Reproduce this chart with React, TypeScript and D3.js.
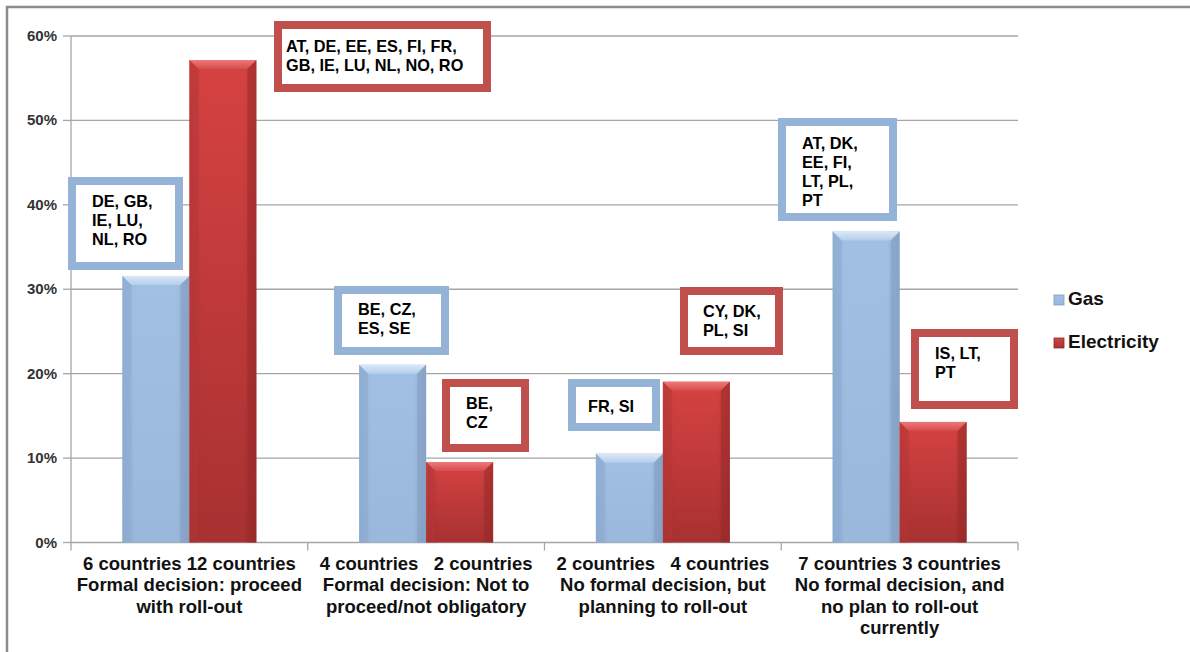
import React from "react";
import * as d3 from "d3";

const categories = ["c1", "c2", "c3", "c4"];
const categoryLabels = [
  ["6 countries 12 countries", "Formal decision: proceed", "with roll-out"],
  ["4 countries   2 countries", "Formal decision: Not to", "proceed/not obligatory"],
  ["2 countries   4 countries", "No formal decision, but", "planning to roll-out"],
  ["7 countries 3 countries", "No formal decision, and", "no plan to roll-out", "currently"],
];
const seriesNames = ["Gas", "Electricity"];
const gasValues = [6 / 19, 4 / 19, 2 / 19, 7 / 19];
const elecValues = [12 / 21, 2 / 21, 4 / 21, 3 / 21];
const yTicks = [0, 0.1, 0.2, 0.3, 0.4, 0.5, 0.6];

const gasCountries = [
  ["DE, GB,", "IE, LU,", "NL, RO"],
  ["BE, CZ,", "ES, SE"],
  ["FR, SI"],
  ["AT, DK,", "EE, FI,", "LT, PL,", "PT"],
];
const elecCountries = [
  ["AT, DE, EE, ES, FI, FR,", "GB, IE, LU, NL, NO, RO"],
  ["BE,", "CZ"],
  ["CY, DK,", "PL, SI"],
  ["IS, LT,", "PT"],
];

// layout of the annotation boxes (outer bounds: x0, y0, x1, y1, text x, first baseline)
const gasBoxLayout = [
  [68, 177, 183, 270, 92, 207],
  [334, 286, 449, 355, 358, 315],
  [568, 379, 660, 431, 588, 412],
  [778, 118, 897, 221, 802, 149],
];
const elecBoxLayout = [
  [274, 21, 491, 92, 286, 52],
  [442, 379, 529, 452, 466, 409],
  [680, 287, 783, 355, 703, 317],
  [911, 329, 1018, 409, 935, 359],
];

const FONT = "'Liberation Sans', Arial, sans-serif";
const BLUE_BORDER = "#95b3d7";
const RED_BORDER = "#c0504d";

export default function App() {
  const left = 71;
  const right = 1018;
  const y = d3.scaleLinear().domain([0, 0.6]).range([542.5, 36]);
  const x0 = d3.scaleBand<string>().domain(categories).range([left, right]);
  const x1 = d3
    .scaleBand<string>()
    .domain(seriesNames)
    .range([0, x0.bandwidth()])
    .paddingInner(0)
    .paddingOuter(0.767);
  const bw = x1.bandwidth();

  const bar = (cx: number, v: number, kind: string, key: string) => {
    const top = y(v);
    const bottom = y(0);
    const h = bottom - top;
    const bev = Math.min(9, h / 2);
    const isGas = kind === "Gas";
    return (
      <g key={key}>
        <rect x={cx} y={top} width={bw} height={h} fill={isGas ? "url(#gasFill)" : "url(#elecFill)"} />
        <rect x={cx} y={top} width={bw} height={h} fill="url(#sideShade)" />
        <polygon
          points={`${cx},${top} ${cx + bw},${top} ${cx + bw - bev},${top + bev} ${cx + bev},${top + bev}`}
          fill={isGas ? "url(#gasTop)" : "url(#elecTop)"}
        />
        <polygon
          points={`${cx},${top} ${cx + bev},${top + bev} ${cx + bev},${bottom} ${cx},${bottom}`}
          fill={isGas ? "#8aa9cf" : "#b63636"}
          opacity={0.55}
        />
        <polygon
          points={`${cx + bw},${top} ${cx + bw - bev},${top + bev} ${cx + bw - bev},${bottom} ${cx + bw},${bottom}`}
          fill={isGas ? "#7f9cc2" : "#9a2a2a"}
          opacity={0.55}
        />
      </g>
    );
  };

  const box = (lay: number[], lines: string[], color: string, key: string) => {
    const [bx0, by0, bx1, by1, tx, ty] = lay;
    return (
      <g key={key}>
        <rect
          x={bx0 + 4}
          y={by0 + 4}
          width={bx1 - bx0 - 8}
          height={by1 - by0 - 8}
          fill="#ffffff"
          stroke={color}
          strokeWidth={8}
        />
        {lines.map((t, i) => (
          <text key={i} x={tx} y={ty + i * 19} fontFamily={FONT} fontWeight="bold" fontSize={16.3} fill="#000">
            {t}
          </text>
        ))}
      </g>
    );
  };

  return (
    <svg
      width={1190}
      height={652}
      style={{ position: "fixed", left: 0, top: 0, background: "#fff" }}
    >
      <defs>
        <linearGradient id="gasFill" x1="0" y1="0" x2="0" y2="1">
          <stop offset="0" stopColor="#a2c0e4" />
          <stop offset="1" stopColor="#9ab8dc" />
        </linearGradient>
        <linearGradient id="elecFill" x1="0" y1="0" x2="0" y2="1">
          <stop offset="0" stopColor="#d64242" />
          <stop offset="1" stopColor="#a83131" />
        </linearGradient>
        <linearGradient id="sideShade" x1="0" y1="0" x2="1" y2="0">
          <stop offset="0" stopColor="#000" stopOpacity={0.06} />
          <stop offset="0.2" stopColor="#000" stopOpacity={0} />
          <stop offset="0.8" stopColor="#000" stopOpacity={0} />
          <stop offset="1" stopColor="#000" stopOpacity={0.1} />
        </linearGradient>
        <linearGradient id="gasTop" x1="0" y1="0" x2="0" y2="1">
          <stop offset="0" stopColor="#dbe8f7" />
          <stop offset="1" stopColor="#b4cdea" />
        </linearGradient>
        <linearGradient id="elecTop" x1="0" y1="0" x2="0" y2="1">
          <stop offset="0" stopColor="#ec7a7a" />
          <stop offset="1" stopColor="#d84a4a" />
        </linearGradient>
      </defs>

      <rect x={7} y={7} width={1250} height={700} fill="none" stroke="#8c8c8c" strokeWidth={2.5} />

      {/* gridlines and y axis */}
      {yTicks.map((t) => (
        <g key={t}>
          <line x1={left} x2={right} y1={y(t)} y2={y(t)} stroke="#a6a6a6" strokeWidth={1.3} />
          <line x1={left - 8} x2={left} y1={y(t)} y2={y(t)} stroke="#a6a6a6" strokeWidth={1.3} />
          <text
            x={57}
            y={y(t) + 5}
            textAnchor="end"
            fontFamily={FONT}
            fontWeight="bold"
            fontSize={15}
            fill="#333"
          >
            {d3.format(".0%")(t)}
          </text>
        </g>
      ))}
      <line x1={left} x2={left} y1={y(0.6)} y2={y(0)} stroke="#a6a6a6" strokeWidth={1.3} />
      {/* category ticks */}
      {categories.map((c) => (
        <line key={c} x1={x0(c)! + x0.bandwidth()} x2={x0(c)! + x0.bandwidth()} y1={y(0)} y2={y(0) + 8} stroke="#a6a6a6" strokeWidth={1.3} />
      ))}
      <line x1={left} x2={left} y1={y(0)} y2={y(0) + 8} stroke="#a6a6a6" strokeWidth={1.3} />

      {/* bars */}
      {categories.map((c, i) => (
        <g key={c}>
          {bar(x0(c)! + x1("Gas")!, gasValues[i], "Gas", c + "g")}
          {bar(x0(c)! + x1("Electricity")!, elecValues[i], "Electricity", c + "e")}
        </g>
      ))}

      {/* category labels */}
      {categories.map((c, i) => (
        <text
          key={c}
          fontFamily={FONT}
          fontWeight="bold"
          fontSize={18.5}
          fill="#111"
          textAnchor="middle"
          style={{ whiteSpace: "pre" }}
        >
          {categoryLabels[i].map((l, j) => (
            <tspan key={j} x={x0(c)! + x0.bandwidth() / 2} y={570 + j * 21.3}>
              {l}
            </tspan>
          ))}
        </text>
      ))}

      {/* annotation boxes */}
      {categories.map((c, i) => box(gasBoxLayout[i], gasCountries[i], BLUE_BORDER, c + "gb"))}
      {categories.map((c, i) => box(elecBoxLayout[i], elecCountries[i], RED_BORDER, c + "eb"))}

      {/* legend */}
      {seriesNames.map((s, i) => (
        <g key={s}>
          <rect x={1054} y={295 + i * 43} width={10} height={10} fill={i === 0 ? "url(#gasFill)" : "url(#elecFill)"} stroke={i === 0 ? "#7f9cc2" : "#8a2a2a"} strokeWidth={0.8} />
          <text x={1068} y={305 + i * 43} fontFamily={FONT} fontWeight="bold" fontSize={19} fill="#111">
            {s}
          </text>
        </g>
      ))}
    </svg>
  );
}
